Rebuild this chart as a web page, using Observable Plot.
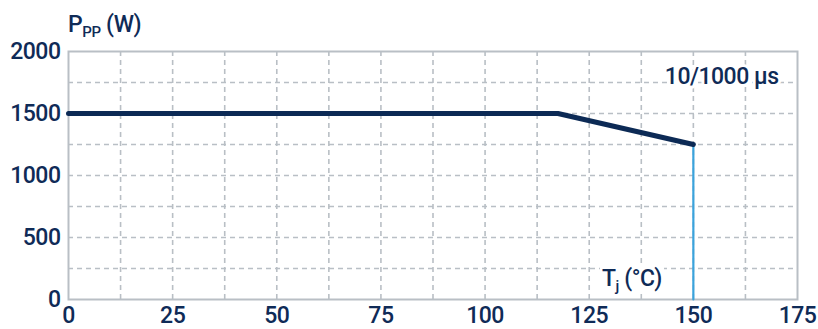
<!DOCTYPE html>
<html>
<head>
<meta charset="utf-8">
<script src="https://cdn.jsdelivr.net/npm/d3@7"></script>
<script src="https://cdn.jsdelivr.net/npm/@observablehq/plot@0.6"></script>
<style>
  html, body { margin: 0; padding: 0; background: #fff; }
  #wrap { position: relative; width: 818px; height: 329px; font-family: Roboto, "Liberation Sans", sans-serif; color: #0f2b57; }
  .lbl { position: absolute; font-size: 23px; font-weight: 500; letter-spacing: -0.5px; line-height: 1; white-space: nowrap; background: #fff; padding: 0 2px; }
  .lbl sub { font-size: 15px; vertical-align: baseline; position: relative; top: 5px; letter-spacing: -0.3px; }
</style>
</head>
<body>
<div id="wrap"></div>
<script>
// Data
const tempC = [0, 117.5, 150];
const powerW = [1500, 1500, 1250];
const cutoffT = [150, 150];
const cutoffP = [1250, 0];
const xTicks = [0, 25, 50, 75, 100, 125, 150, 175];
const yTicks = [0, 500, 1000, 1500, 2000];
const xGrid = [12.5, 25, 37.5, 50, 62.5, 75, 87.5, 100, 112.5, 125, 137.5, 150, 162.5];
const yGrid = [250, 500, 750, 1000, 1250, 1500, 1750];
const pulseLabel = ["10/1000 µs"];

const curve = tempC.map((t, i) => ({t, p: powerW[i]}));
const cutoff = cutoffT.map((t, i) => ({t, p: cutoffP[i]}));

const grid = "#b9bfc5";
const navy = "#0c2a55";
const font = "Roboto, 'Liberation Sans', sans-serif";

const chart = Plot.plot({
  width: 818,
  height: 329,
  marginLeft: 68,
  marginRight: 21,
  marginTop: 51,
  marginBottom: 30,
  x: {domain: [0, 175]},
  y: {domain: [0, 2000]},
  style: {fontFamily: font, fontSize: "23px", fontWeight: 500, letterSpacing: "-0.5px", color: "#0f2b57", background: "white"},
  marks: [
    Plot.ruleX(xGrid, {stroke: grid, strokeWidth: 1.6, strokeDasharray: "5,4"}),
    Plot.ruleY(yGrid, {stroke: grid, strokeWidth: 1.6, strokeDasharray: "5,4"}),
    Plot.frame({stroke: grid, strokeWidth: 2}),
    Plot.axisX({ticks: xTicks, tickFormat: d => String(d), tickSize: 0, tickPadding: 7, label: null, fontSize: 23}),
    Plot.axisY({ticks: yTicks, tickFormat: d => String(d), tickSize: 0, tickPadding: 8, label: null, fontSize: 23}),
    Plot.line(cutoff, {x: "t", y: "p", stroke: "#3aa3dc", strokeWidth: 2.2}),
    Plot.line(curve, {x: "t", y: "p", stroke: navy, strokeWidth: 5, strokeLinejoin: "miter"}),
    Plot.text(pulseLabel, {frameAnchor: "top-right", dx: -19, dy: 16, text: d => d, textAnchor: "end", lineAnchor: "top", fontSize: 23, fill: "#0f2b57", stroke: "white", strokeWidth: 6, paintOrder: "stroke"})
  ]
});

const wrap = document.getElementById("wrap");
wrap.appendChild(chart);

const title = document.createElement("div");
title.className = "lbl";
title.innerHTML = "P<sub>PP</sub> (W)";
title.style.left = "66px";
title.style.top = "13px";
wrap.appendChild(title);

const xl = document.createElement("div");
xl.className = "lbl";
xl.innerHTML = "T<sub>j</sub> (°C)";
xl.style.left = "600px";
xl.style.top = "267px";
wrap.appendChild(xl);
</script>
</body>
</html>
